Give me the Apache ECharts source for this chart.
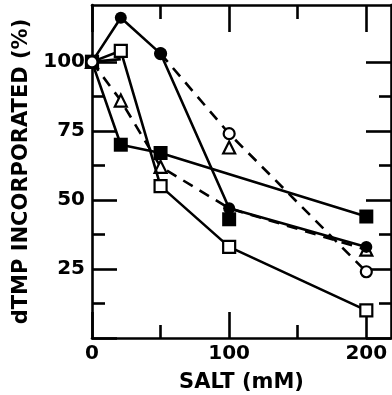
<!DOCTYPE html>
<html>
<head>
<meta charset="utf-8">
<script src="https://cdn.jsdelivr.net/npm/echarts@6/dist/echarts.min.js"></script>
<style>html,body{margin:0;padding:0;background:#fff}#c{width:392px;height:395px}</style>
</head>
<body>
<div id="c"></div>
<script>
// ---- data ----
const salt = [0, 21, 50, 100, 200];
const filledCircle = [100, 116, 103, 47, 33];
const openSquare = [100, 104, 55, 33, 10];
const filledSquareX = [0, 21, 50, 200];
const filledSquare = [100, 70, 67, 44];
const triangle = [100, 86, 62, 47, 32];
const openCircleX = [50, 100, 200];
const openCircle = [103, 74, 24];
const extraLineX = [0, 21];
const extraLine = [100, 101];
const loneSquareX = [100];
const loneSquare = [43];
const loneTriangleX = [100];
const loneTriangle = [69];
const originX = [0];
const origin = [100];
const xMajor = [0, 100, 200];
const xMinor = [50, 150];
const yMajor = [0, 25, 50, 75, 100];
const yMinor = [12.5, 37.5, 62.5, 87.5];
const yLabels = [25, 50, 75, 100];
const xTitle = 'SALT (mM)';
const yTitle = 'dTMP INCORPORATED (%)';

const pairs = (xs, ys) => xs.map((x, i) => [x, ys[i]]);
const K = '#000';
const FONT = 'DejaVu Sans';
const XMAX = 218, YMAX = 120.6;
const LW = 2.6;

function xAx(pos, ticks, len, showLine, labels) {
  return {
    type: 'value', min: 0, max: XMAX, position: pos, gridIndex: 0,
    axisLine: { show: showLine, onZero: false, lineStyle: { color: K, width: LW } },
    axisTick: { show: true, inside: true, length: len, customValues: ticks, lineStyle: { color: K, width: LW } },
    axisLabel: labels ? { show: true, customValues: labels, color: K, fontFamily: FONT, fontWeight: 'bold', fontSize: 20, margin: 6 } : { show: false },
    splitLine: { show: false }
  };
}
function yAx(pos, ticks, len, showLine, labels) {
  return {
    type: 'value', min: 0, max: YMAX, position: pos, gridIndex: 0,
    axisLine: { show: showLine, onZero: false, lineStyle: { color: K, width: LW } },
    axisTick: { show: true, inside: true, length: len, customValues: ticks, lineStyle: { color: K, width: LW } },
    axisLabel: labels ? { show: true, customValues: labels, color: K, fontFamily: FONT, fontWeight: 'bold', fontSize: 20, margin: 7 } : { show: false },
    splitLine: { show: false }
  };
}

const xAxes = [
  xAx('bottom', xMajor, 26, true, xMajor),
  xAx('bottom', xMinor, 13, false, null),
  xAx('top', xMajor, 27, true, null),
  xAx('top', xMinor, 14, false, null)
];
Object.assign(xAxes[0], {
  name: xTitle, nameLocation: 'middle', nameGap: 34,
  nameTextStyle: { color: K, fontFamily: FONT, fontWeight: 'bold', fontSize: 21 }
});
const yAxes = [
  yAx('left', yMajor, 25, true, yLabels),
  yAx('left', yMinor, 13, false, null),
  yAx('right', yMajor, 25, true, null),
  yAx('right', yMinor, 12, false, null)
];
Object.assign(yAxes[0], {
  name: yTitle, nameLocation: 'middle', nameGap: 55, nameRotate: 90,
  nameTextStyle: { color: K, fontFamily: FONT, fontWeight: 'bold', fontSize: 21 }
});

const solid = { color: K, width: LW, type: 'solid' };
const dashed = { color: K, width: LW, type: [11, 8] };
const filledStyle = { color: K, borderColor: K, borderWidth: 0 };
const openStyle = { color: '#fff', borderColor: K, borderWidth: 2.2 };

function lineSeries(data, lineStyle, symbol, size, itemStyle, z) {
  return {
    type: 'line', xAxisIndex: 0, yAxisIndex: 0, data, symbol, symbolSize: size,
    showSymbol: true, lineStyle, itemStyle, z, animation: false, silent: true,
    emphasis: { disabled: true }
  };
}

const triData = pairs(salt, triangle).map((p, i) => i === 3 ? { value: p, symbol: 'none' } : p);

const option = {
  backgroundColor: '#fff',
  animation: false,
  grid: { left: 92, right: 1, top: 5, bottom: 57, outerBoundsMode: 'none', containLabel: false },
  xAxis: xAxes,
  yAxis: yAxes,
  series: [
    lineSeries(pairs(openCircleX, openCircle), dashed, 'circle', 11, openStyle, 2),
    lineSeries(triData, dashed, 'triangle', 12, openStyle, 2),
    lineSeries(pairs(extraLineX, extraLine), solid, 'none', 0, openStyle, 2),
    lineSeries(pairs(salt, openSquare), solid, 'rect', 12, openStyle, 3),
    lineSeries(pairs(filledSquareX, filledSquare), solid, 'rect', 14, filledStyle, 3),
    lineSeries(pairs(loneTriangleX, loneTriangle), solid, 'triangle', 12, openStyle, 3),
    lineSeries(pairs(loneSquareX, loneSquare), solid, 'rect', 14, filledStyle, 3),
    lineSeries(pairs(salt, filledCircle), solid, 'circle', 12, filledStyle, 4),
    lineSeries(pairs(originX, origin), solid, 'circle', 11, openStyle, 5)
  ]
};

const chart = echarts.init(document.getElementById('c'), null, { renderer: 'canvas' });
chart.setOption(option);
</script>
</body>
</html>
